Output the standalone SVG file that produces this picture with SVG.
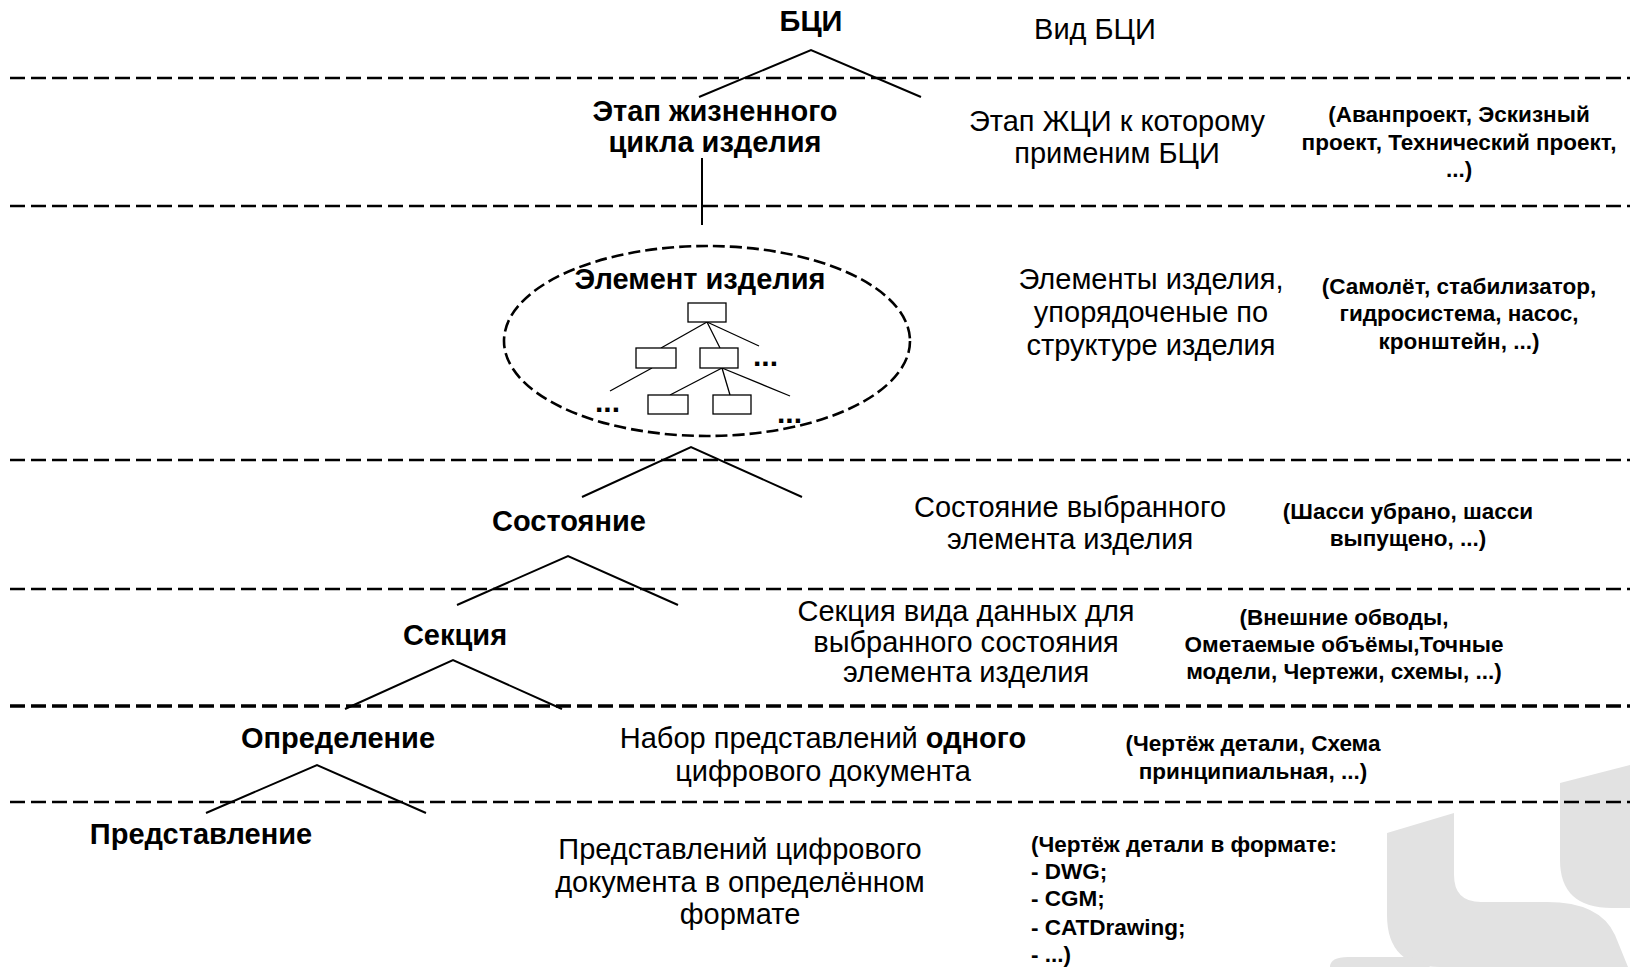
<svg xmlns="http://www.w3.org/2000/svg" width="1630" height="967" viewBox="0 0 1630 967">
<style>
.b{font-family:"Liberation Sans",Arial,sans-serif;font-weight:bold;font-size:29px;fill:#000;text-anchor:middle}
.r{font-family:"Liberation Sans",Arial,sans-serif;font-size:29px;fill:#000;text-anchor:middle}
.s{font-family:"Liberation Sans",Arial,sans-serif;font-weight:bold;font-size:22.5px;fill:#000;text-anchor:middle}
.sl{font-family:"Liberation Sans",Arial,sans-serif;font-weight:bold;font-size:22.5px;fill:#000}
.dt{font-family:"Liberation Sans",Arial,sans-serif;font-weight:bold;font-size:30px;fill:#000}
.dl{stroke:#000;stroke-width:2.6;stroke-dasharray:15 6;fill:none}
.ln{stroke:#000;stroke-width:2;fill:none}
.tl{stroke:#000;stroke-width:1.3;fill:none}
.bx{stroke:#000;stroke-width:1.3;fill:#fff}
.wm{fill:#e2e2e2}
</style>
<rect width="1630" height="967" fill="#fff"/>
<g id="watermark">
<path class="wm" d="M1387,833 L1454,813 L1454,875 Q1454,902 1481,902 L1547,902 Q1600,902 1615,935 L1628,967 L1440,967 Q1387,967 1387,915 Z"/>
<path class="wm" d="M1560,783 L1630,765 L1630,908 L1612,908 Q1560,908 1560,860 Z"/>
<path class="wm" d="M1330,967 Q1330,957 1348,957 L1405,957 Q1424,957 1430,967 Z"/>
</g>
<g id="levels">
<line class="dl" x1="10" y1="78" x2="1630" y2="78"/>
<line class="dl" x1="10" y1="206" x2="1630" y2="206"/>
<line class="dl" x1="10" y1="460" x2="1630" y2="460"/>
<line class="dl" x1="10" y1="589" x2="1630" y2="589"/>
<line class="dl" x1="10" y1="706" x2="1630" y2="706" style="stroke-width:3.5"/>
<line class="dl" x1="10" y1="802" x2="1630" y2="802"/>
</g>
<g id="connectors">
<polyline class="ln" points="699,97 811,50 921,97"/>
<line class="ln" x1="702" y1="158" x2="702" y2="225"/>
<polyline class="ln" points="582,497 691,447 802,497"/>
<polyline class="ln" points="457,605 568,556 678,605"/>
<polyline class="ln" points="345,709 453,660 562,709"/>
<polyline class="ln" points="206,813 317,765 426,813"/>
</g>
<g id="bci"><text class="b" x="811" y="31">БЦИ</text></g>
<g id="vid-bci"><text class="r" x="1095" y="39">Вид БЦИ</text></g>
<g id="etap"><text class="b" x="715" y="121">Этап жизненного</text><text class="b" x="715" y="152">цикла изделия</text></g>
<g id="etap-desc"><text class="r" x="1117" y="131">Этап ЖЦИ к которому</text><text class="r" x="1117" y="163">применим БЦИ</text></g>
<g id="etap-ex"><text class="s" x="1459" y="122">(Аванпроект, Эскизный</text><text class="s" x="1459" y="150">проект, Технический проект,</text><text class="s" x="1459" y="177">...)</text></g>
<g id="element">
<ellipse cx="707" cy="341" rx="203" ry="95" fill="none" stroke="#000" stroke-width="2.6" stroke-dasharray="12 5"/>
<text class="b" x="700" y="289">Элемент изделия</text>
<line class="tl" x1="707" y1="322" x2="661" y2="348"/>
<line class="tl" x1="707" y1="322" x2="720" y2="348"/>
<line class="tl" x1="707" y1="322" x2="759" y2="346"/>
<line class="tl" x1="652" y1="368" x2="610" y2="391"/>
<line class="tl" x1="722" y1="368" x2="670" y2="395"/>
<line class="tl" x1="722" y1="368" x2="730" y2="395"/>
<line class="tl" x1="722" y1="368" x2="790" y2="396"/>
<rect class="bx" x="688" y="303" width="38" height="19"/>
<rect class="bx" x="636" y="348" width="40" height="20"/>
<rect class="bx" x="700" y="348" width="38" height="20"/>
<rect class="bx" x="648" y="395" width="40" height="19"/>
<rect class="bx" x="713" y="395" width="38" height="19"/>
<text class="dt" x="753" y="366">...</text>
<text class="dt" x="595" y="412">...</text>
<text class="dt" x="777" y="423">...</text>
</g>
<g id="element-desc"><text class="r" x="1151" y="289">Элементы изделия,</text><text class="r" x="1151" y="322">упорядоченые по</text><text class="r" x="1151" y="355">структуре изделия</text></g>
<g id="element-ex"><text class="s" x="1459" y="294">(Самолёт, стабилизатор,</text><text class="s" x="1459" y="321">гидросистема, насос,</text><text class="s" x="1459" y="349">кронштейн, ...)</text></g>
<g id="state"><text class="b" x="569" y="531">Состояние</text></g>
<g id="state-desc"><text class="r" x="1070" y="517">Состояние выбранного</text><text class="r" x="1070" y="549">элемента изделия</text></g>
<g id="state-ex"><text class="s" x="1408" y="519">(Шасси убрано, шасси</text><text class="s" x="1408" y="546">выпущено, ...)</text></g>
<g id="section"><text class="b" x="455" y="645">Секция</text></g>
<g id="section-desc"><text class="r" x="966" y="621">Секция вида данных для</text><text class="r" x="966" y="652">выбранного состояния</text><text class="r" x="966" y="682">элемента изделия</text></g>
<g id="section-ex"><text class="s" x="1344" y="625">(Внешние обводы,</text><text class="s" x="1344" y="652">Ометаемые объёмы,Точные</text><text class="s" x="1344" y="679">модели, Чертежи, схемы, ...)</text></g>
<g id="definition"><text class="b" x="338" y="748">Определение</text></g>
<g id="definition-desc"><text class="r" x="823" y="748">Набор представлений <tspan font-weight="bold">одного</tspan></text><text class="r" x="823" y="781">цифрового документа</text></g>
<g id="definition-ex"><text class="s" x="1253" y="751">(Чертёж детали, Схема</text><text class="s" x="1253" y="779">принципиальная, ...)</text></g>
<g id="representation"><text class="b" x="201" y="844">Представление</text></g>
<g id="representation-desc"><text class="r" x="740" y="859">Представлений цифрового</text><text class="r" x="740" y="892">документа в определённом</text><text class="r" x="740" y="924">формате</text></g>
<g id="representation-ex"><text class="sl" x="1031" y="852">(Чертёж детали в формате:</text><text class="sl" x="1031" y="879">- DWG;</text><text class="sl" x="1031" y="906">- CGM;</text><text class="sl" x="1031" y="935">- CATDrawing;</text><text class="sl" x="1031" y="962">- ...)</text></g>
</svg>
